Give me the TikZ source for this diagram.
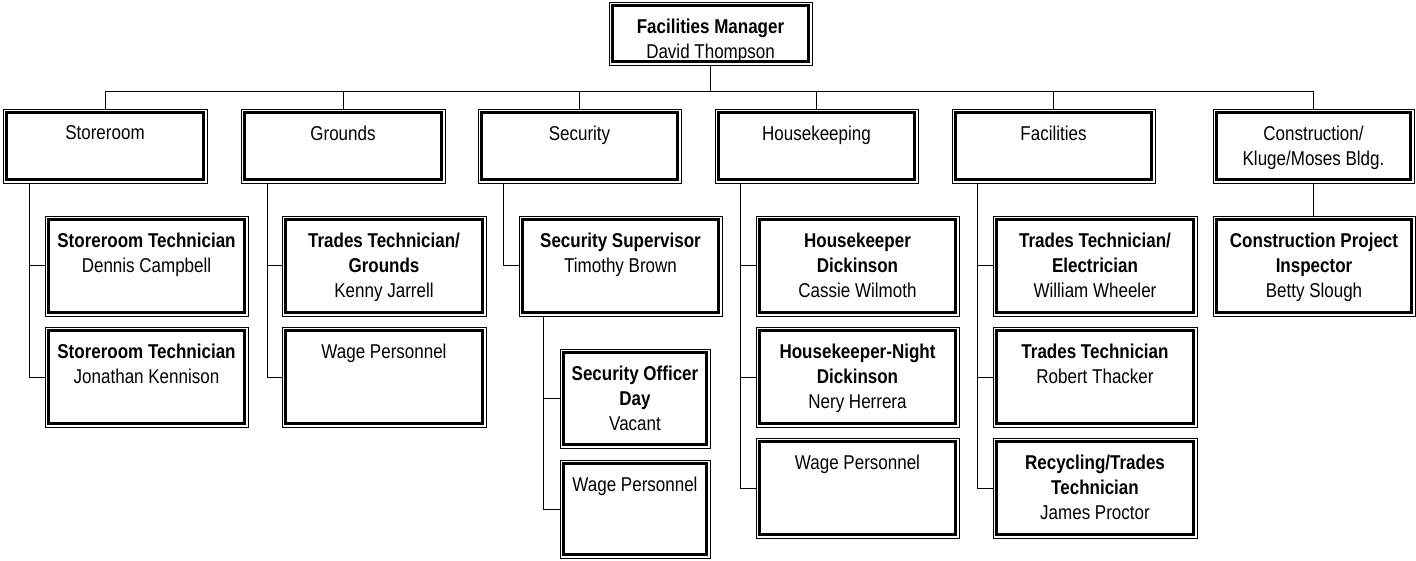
\documentclass[tikz,border=0pt]{standalone}
\usepackage{fontspec}
\setmainfont{Liberation Sans}[FakeStretch=0.85]
\begin{document}
\begin{tikzpicture}[x=1pt,y=-1pt,
  outerbox/.style={draw=black, line width=0.9pt, inner sep=0pt, fill=white},
  innerline/.style={draw=black, line width=3pt},
  lbl/.style={anchor=north, inner sep=0pt, align=center, font=\fontsize{20}{25}\selectfont},
  conn/.style={draw=black, line width=1pt}]
\newcommand\obox[6]{%
  \node[outerbox, minimum width={(#4)-(#2)}, minimum height={(#5)-(#3)}] (#1) at ({((#2)+(#4))/2},{((#3)+(#5))/2}) {};
  \draw[innerline] ([xshift=4pt,yshift=-4pt]#1.north west) rectangle ([xshift=-4pt,yshift=4pt]#1.south east);
  \node[lbl] (#1-t) at ([yshift=-17pt]#1.north) {#6};
}
\useasboundingbox (0,0) rectangle (1416,561);
% top
\obox{top}{609}{2}{812}{65}{\textbf{Facilities Manager}\\David Thompson}
% level 1
\obox{store}{3}{109}{207}{183}{Storeroom}
\obox{grounds}{241}{109}{445}{183}{Grounds}
\obox{security}{478}{109}{681}{183}{Security}
\obox{house}{715}{109}{918}{183}{Housekeeping}
\obox{facil}{952}{109}{1155}{183}{Facilities}
\obox{constr}{1213}{109}{1414}{183}{Construction/\\Kluge/Moses Bldg.}
% storeroom column
\obox{st1}{45}{216}{248}{316}{\textbf{Storeroom Technician}\\Dennis Campbell}
\obox{st2}{45}{327}{248}{427}{\textbf{Storeroom Technician}\\Jonathan Kennison}
% grounds column
\obox{gr1}{282}{216}{486}{316}{\textbf{Trades Technician/}\\\textbf{Grounds}\\Kenny Jarrell}
\obox{gr2}{282}{327}{486}{427}{Wage Personnel}
% security column
\obox{sec1}{519}{216}{722}{316}{\textbf{Security Supervisor}\\Timothy Brown}
\obox{sec2}{560}{349}{710}{448}{\textbf{Security Officer}\\\textbf{Day}\\Vacant}
\obox{sec3}{560}{460}{710}{558}{Wage Personnel}
% housekeeping column
\obox{hk1}{756}{216}{959}{316}{\textbf{Housekeeper}\\\textbf{Dickinson}\\Cassie Wilmoth}
\obox{hk2}{756}{327}{959}{427}{\textbf{Housekeeper-Night}\\\textbf{Dickinson}\\Nery Herrera}
\obox{hk3}{756}{438}{959}{538}{Wage Personnel}
% facilities column
\obox{fa1}{993}{216}{1197}{316}{\textbf{Trades Technician/}\\\textbf{Electrician}\\William Wheeler}
\obox{fa2}{993}{327}{1197}{427}{\textbf{Trades Technician}\\Robert Thacker}
\obox{fa3}{993}{438}{1197}{538}{\textbf{Recycling/Trades}\\\textbf{Technician}\\James Proctor}
% construction column
\obox{co1}{1213}{216}{1415}{316}{\textbf{Construction Project}\\\textbf{Inspector}\\Betty Slough}
% connectors
\coordinate (bar) at (710,92);
\draw[conn] (top.south) -- (top.south |- bar);
\draw[conn] (store.north) -- (store.north |- bar) -| (constr.north);
\draw[conn] (grounds.north) -- (grounds.north |- bar);
\draw[conn] (security.north) -- (security.north |- bar);
\draw[conn] (house.north) -- (house.north |- bar);
\draw[conn] (facil.north) -- (facil.north |- bar);
\coordinate (dst) at ([xshift=-76pt]store.south);
\draw[conn] (dst) |- (st1.west);
\draw[conn] (dst) |- (st2.west);
\coordinate (dgr) at ([xshift=-76pt]grounds.south);
\draw[conn] (dgr) |- (gr1.west);
\draw[conn] (dgr) |- (gr2.west);
\coordinate (dsec) at ([xshift=-76pt]security.south);
\draw[conn] (dsec) |- (sec1.west);
\coordinate (dsup) at ([xshift=-77pt]sec1.south);
\draw[conn] (dsup) |- (sec2.west);
\draw[conn] (dsup) |- (sec3.west);
\coordinate (dhk) at ([xshift=-76pt]house.south);
\draw[conn] (dhk) |- (hk1.west);
\draw[conn] (dhk) |- (hk2.west);
\draw[conn] (dhk) |- (hk3.west);
\coordinate (dfa) at ([xshift=-76pt]facil.south);
\draw[conn] (dfa) |- (fa1.west);
\draw[conn] (dfa) |- (fa2.west);
\draw[conn] (dfa) |- (fa3.west);
\draw[conn] (constr.south) -- (constr.south |- co1.north);
\end{tikzpicture}
\end{document}
